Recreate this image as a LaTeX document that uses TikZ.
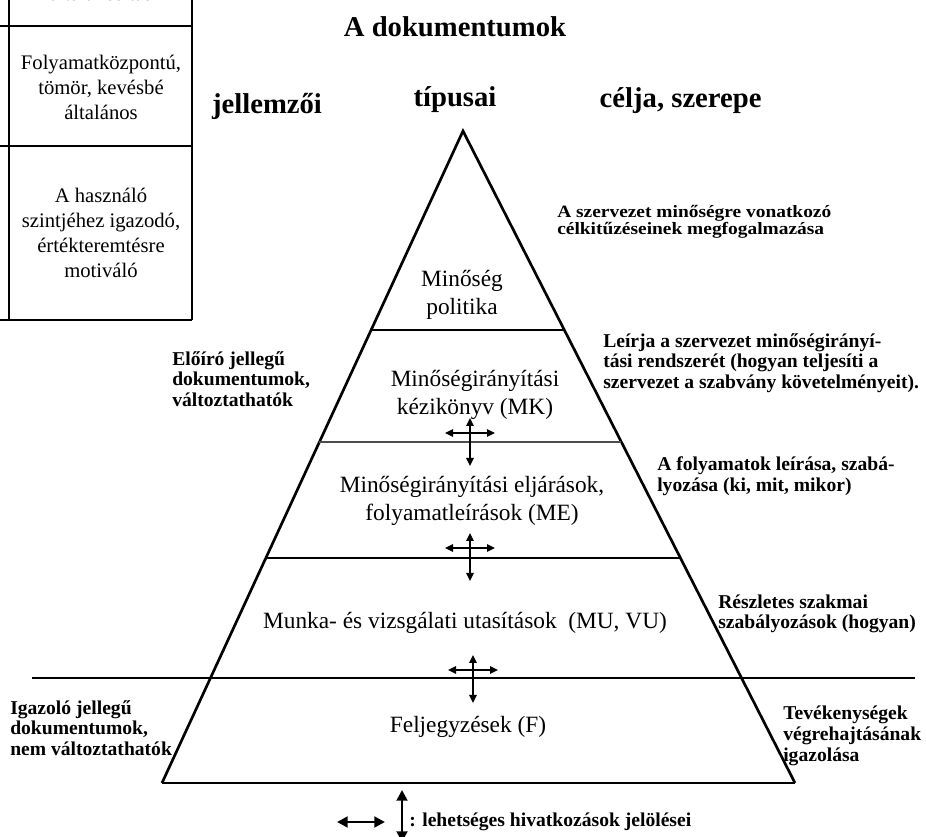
\documentclass[tikz,border=0pt]{standalone}
\usepackage{fontspec}
\setmainfont{Liberation Serif}
\newfontfamily\widebold[FakeStretch=1.12]{Liberation Serif}
\usetikzlibrary{calc,arrows.meta}

\begin{document}
\begin{tikzpicture}[x=0.75pt,y=-0.75pt,
  cell/.style={font=\fontsize{15.5}{18.7}\selectfont, align=center},
  head/.style={font=\fontsize{21.5}{24}\selectfont\bfseries},
  tier/.style={font=\fontsize{17.5}{20.5}\selectfont, align=center},
  note/.style={font=\fontsize{14.7}{15.5}\selectfont\bfseries, align=left, anchor=west, inner xsep=0pt},
  goal/.style={font=\widebold\fontsize{13}{11.5}\selectfont\bfseries, align=left, anchor=west, inner xsep=0pt},
  refarrow/.style={line width=1.4pt, {Triangle[length=6pt,width=5.5pt]}-{Triangle[length=6pt,width=5.5pt]}},
  keyarrow/.style={line width=2.2pt, {Triangle[length=8pt,width=8pt]}-{Triangle[length=8pt,width=8pt]}},
  side/.style={line width=2pt}]
\useasboundingbox (0,0) rectangle (926,837);
\clip (0,0) rectangle (926,837);

%table at the left
\draw[line width=1.1pt] (9,-5) -- (9,320) (192,-5) -- (192,320);
\draw[line width=1.1pt] (0,26) -- (192,26) (0,146) -- (192,146) (0,320) -- (192,320);
\node[cell] (cell0) at (101,-7) {általánosítás};
\node[cell] (cell1) at (101,87) {Folyamatközpontú,\\tömör, kevésbé\\általános};
\node[cell] (cell2) at (101,233) {A használó\\szintjéhez igazodó,\\értékteremtésre\\motiváló};

%headings
\node[head] (title) at (455,27) {A dokumentumok};
\node[head] (feat) at (267,106) {jellemzői};
\node[head] (types) at (455,100) {típusai};
\node[head, anchor=west] (aims) at (595,101) {célja, szerepe};

%pyramid
\coordinate (apex) at (463,131);
\coordinate (bl) at (162,783);
\coordinate (br) at (795,783);
\draw[side] (bl) -- (apex) -- (br);
\draw[line width=1.8pt] (bl) -- (br);
\foreach \yy/\lw/\col in {330/1.5pt/black, 442/1pt/black!70, 558/1.6pt/black}
  \draw[line width=\lw, \col] ($(apex)!{(\yy-131)/652}!(bl)$) -- ($(apex)!{(\yy-131)/652}!(br)$);
\draw[line width=1.1pt] (32,678) -- (915,678);

%tiers
\node[tier] (qp) at (462,295) {Minőség\\politika};
\node[tier] (mk) at (475,395) {Minőségirányítási\\kézikönyv (MK)};
\node[tier] (me) at (472,501) {Minőségirányítási eljárások,\\folyamatleírások (ME)};
\node[tier] (mu) at (465,623) {Munka- és vizsgálati utasítások\ \ (MU, VU)};
\node[tier] (fe) at (468,727) {Feljegyzések (F)};

%references
\foreach \c/\cx/\cy in {c1/470/433, c2/470/548, c3/473/670} {
  \coordinate (\c) at (\cx,\cy);
  \draw[refarrow] ($(\c)+(-25,0)$) -- ($(\c)+(25,0)$);
  \draw[refarrow] ($(\c)+(0,-15)$) -- ($(\c)+(0,33)$);
}

%left side
\node[note] (pres) at (172,379) {Előíró jellegű\\dokumentumok,\\változtathatók};
\node[note] (proof) at (10,728) {Igazoló jellegű\\dokumentumok,\\nem változtathatók};

%right side
\node[goal] (goalqp) at (557,222) {A szervezet minőségre vonatkozó\\célkitűzéseinek megfogalmazása};
\node[note] (goalmk) at (603,363) {Leírja a szervezet minőségirányí-\\tási rendszerét (hogyan teljesíti a\\szervezet a szabvány követelményeit).};
\node[note] (goalme) at (657,476) {A folyamatok leírása, szabá-\\lyozása (ki, mit, mikor)};
\node[note] (goalmu) at (718,614) {Részletes szakmai\\szabályozások (hogyan)};
\node[note] (goalfe) at (783,736) {Tevékenységek\\végrehajtásának\\igazolása};

%legend
\coordinate (keyh) at (361,822);
\coordinate (keyv) at (402,790);
\draw[keyarrow] ($(keyh)+(-24,0)$) -- ($(keyh)+(24,0)$);
\draw[keyarrow] (keyv) -- ($(keyv)+(0,52)$);
\node[note] (key) at (409,822) {: lehetséges hivatkozások jelölései};
\end{tikzpicture}
\end{document}
